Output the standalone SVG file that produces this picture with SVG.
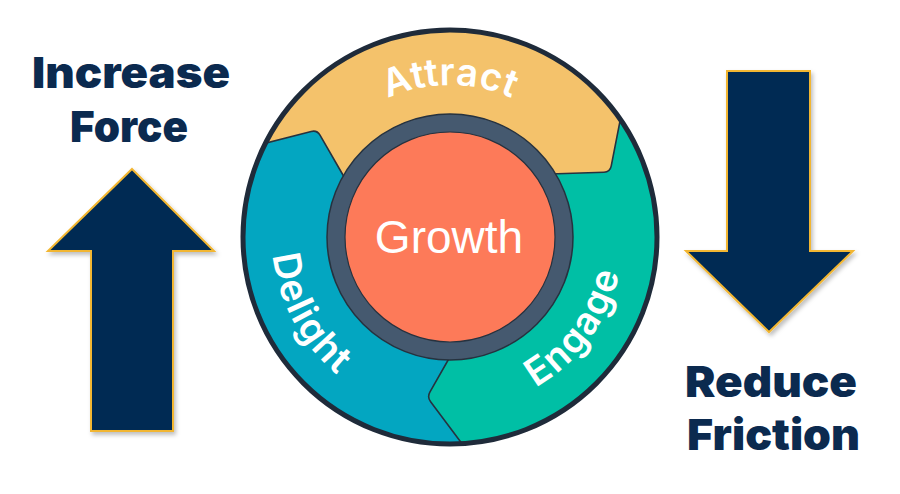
<svg xmlns="http://www.w3.org/2000/svg" width="900" height="494" viewBox="0 0 900 494">
  <defs>
    <style>
      .big { font-family: Inter, "Noto Sans", "Liberation Sans", sans-serif; font-weight: 900; font-size: 43px; fill: #0b2a4f; }
      .seg { font-family: Inter, "Noto Sans", "Liberation Sans", sans-serif; font-weight: 600; font-size: 38px; fill: #ffffff; }
      .arrow { fill: #022a52; stroke: #f2b631; stroke-width: 2; filter: url(#shadow); }
      .edge { fill: none; stroke: #26323f; stroke-width: 1.6; stroke-linejoin: round; }
    </style>
    <filter id="shadow" x="-20%" y="-20%" width="140%" height="140%">
      <feDropShadow dx="2" dy="3" stdDeviation="2" flood-color="#000" flood-opacity="0.25"/>
    </filter>
    <clipPath id="wheelClip">
      <circle cx="450" cy="237" r="207"/>
    </clipPath>
    <path id="pAttract" d="M342.52,129.52 A152,152 0 0 1 557.48,129.52"/>
    <path id="pEngage" d="M477.06,407.87 A173,173 0 0 0 620.87,209.94"/>
    <path id="pDelight" d="M279.33,186.45 A178,178 0 0 0 399.45,407.67"/>
  </defs>

  <rect width="900" height="494" fill="#ffffff"/>

  <g id="increase-force">
    <text class="big" x="131" y="88" text-anchor="middle" textLength="198" lengthAdjust="spacingAndGlyphs">Increase</text>
    <text class="big" x="129" y="142" text-anchor="middle" textLength="118" lengthAdjust="spacingAndGlyphs">Force</text>
  </g>
  <g id="arrow-up">
    <polygon class="arrow" points="132,169 214,251 173,251 173,431 91,431 91,251 48,251"/>
  </g>

  <g id="arrow-down">
    <polygon class="arrow" points="727,71 810,71 810,251 853,251 769,332 686,251 727,251"/>
  </g>
  <g id="reduce-friction">
    <text class="big" x="685" y="397" textLength="172" lengthAdjust="spacingAndGlyphs">Reduce</text>
    <text class="big" x="687" y="450" textLength="173" lengthAdjust="spacingAndGlyphs">Friction</text>
  </g>

  <g id="flywheel">
    <g clip-path="url(#wheelClip)">
      <g id="engage">
        <circle cx="450" cy="237" r="210" fill="#00bfa5"/>
      </g>
      <g id="delight">
        <path fill="#03a6c1" d="M451,355 L430,391.8 Q427,397 430.6,401.8 L499,493 L180,490 L192,162 L267,143 L311.2,131.5 Q317,130 320,135.2 L347,182 L450,237 Z"/>
        <path class="edge" d="M451,355 L430,391.8 Q427,397 430.6,401.8 L499,493"/>
      </g>
      <g id="attract">
        <path fill="#f4c26b" d="M347,182 L320,135.2 Q317,130 311.2,131.5 L267,143 L192,162 L192,0 L650,0 L630,70 L620,121 L611.2,166.1 Q610,172 604,172.2 L550,174 L450,237 Z"/>
        <path class="edge" d="M347,182 L320,135.2 Q317,130 311.2,131.5 L192,162"/>
        <path class="edge" d="M630,70 L611.2,166.1 Q610,172 604,172.2 L550,174"/>
      </g>
    </g>
    <circle cx="450" cy="237" r="207" fill="none" stroke="#1f2b3a" stroke-width="5"/>
    <g id="growth">
      <circle cx="450" cy="237" r="123" fill="#45596f" stroke="#26323f" stroke-width="1.5"/>
      <circle cx="450" cy="237" r="105" fill="#fd7a59" stroke="#26323f" stroke-width="1.2"/>
      <text x="449" y="253" text-anchor="middle" font-family="'Liberation Sans', Arial, sans-serif" font-size="46" fill="#ffffff">Growth</text>
    </g>
    <text class="seg"><textPath href="#pAttract" startOffset="50%" text-anchor="middle" letter-spacing="0.5">Attract</textPath></text>
    <text class="seg"><textPath href="#pEngage" startOffset="50%" text-anchor="middle" letter-spacing="1.5">Engage</textPath></text>
    <text class="seg"><textPath href="#pDelight" startOffset="50%" text-anchor="middle" letter-spacing="1.5">Delight</textPath></text>
  </g>

  <g id="connectors"></g>
</svg>
